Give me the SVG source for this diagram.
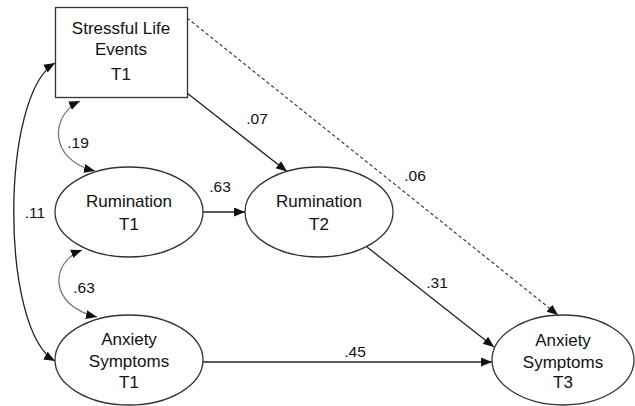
<svg xmlns="http://www.w3.org/2000/svg" width="635" height="406" viewBox="0 0 635 406">
<style>
.node{fill:#fff;stroke:#333;stroke-width:1.3}
.t{font-family:"Liberation Sans",Arial,sans-serif;font-size:17px;fill:#111;text-anchor:middle}
.lb{font-family:"Liberation Sans",Arial,sans-serif;font-size:15.5px;fill:#111;text-anchor:middle}
.e{fill:none;stroke:#222;stroke-width:1.3}
.g{fill:none;stroke:#777;stroke-width:1.3}
.d{fill:none;stroke:#333;stroke-width:1.1;stroke-dasharray:3.5,2.5}
</style>
<defs>
<marker id="ah" markerUnits="userSpaceOnUse" markerWidth="12" markerHeight="10" refX="11" refY="4.5" orient="auto-start-reverse">
<path d="M0,0 L11,4.5 L0,9 z" fill="#111"/>
</marker>
</defs>
<rect width="635" height="406" fill="#fff"/>
<g id="connectors">
<line class="e" x1="203" y1="212" x2="245" y2="212" marker-end="url(#ah)"/>
<line class="e" x1="187" y1="93" x2="287" y2="171.5" marker-end="url(#ah)"/>
<line class="d" x1="187" y1="18" x2="558" y2="315" marker-end="url(#ah)"/>
<line class="e" x1="367" y1="247" x2="494" y2="347" marker-end="url(#ah)"/>
<line class="e" x1="203" y1="362" x2="492" y2="362" marker-end="url(#ah)"/>
<path class="g" d="M80 101 C50 115, 48 160, 95 171" marker-start="url(#ah)" marker-end="url(#ah)"/>
<path class="g" d="M82 250 C50 262, 48 306, 97 317" marker-start="url(#ah)" marker-end="url(#ah)"/>
<path class="e" d="M55 63 C0 95, 0 330, 55 361" marker-start="url(#ah)" marker-end="url(#ah)"/>
<text class="lb" x="220" y="192">.63</text>
<text class="lb" x="257" y="124">.07</text>
<text class="lb" x="415" y="181">.06</text>
<text class="lb" x="437" y="288">.31</text>
<text class="lb" x="355" y="357">.45</text>
<text class="lb" x="78" y="148">.19</text>
<text class="lb" x="84" y="293">.63</text>
<text class="lb" x="35" y="218">.11</text>
</g>
<g id="stress">
<rect class="node" x="55.5" y="7.5" width="132" height="90"/>
<text class="t" x="121" y="34">Stressful Life</text>
<text class="t" x="121" y="55">Events</text>
<text class="t" x="121" y="80">T1</text>
</g>
<g id="rum1">
<ellipse class="node" cx="129" cy="212" rx="74" ry="45"/>
<text class="t" x="129" y="207">Rumination</text>
<text class="t" x="129" y="230">T1</text>
</g>
<g id="rum2">
<ellipse class="node" cx="319" cy="212" rx="74" ry="45"/>
<text class="t" x="319" y="207">Rumination</text>
<text class="t" x="319" y="230">T2</text>
</g>
<g id="anx1">
<ellipse class="node" cx="129" cy="360" rx="74" ry="45"/>
<text class="t" x="129" y="345">Anxiety</text>
<text class="t" x="129" y="367">Symptoms</text>
<text class="t" x="129" y="388">T1</text>
</g>
<g id="anx3">
<ellipse class="node" cx="563" cy="360" rx="71" ry="45"/>
<text class="t" x="563" y="346">Anxiety</text>
<text class="t" x="563" y="368">Symptoms</text>
<text class="t" x="563" y="388">T3</text>
</g>
</svg>
